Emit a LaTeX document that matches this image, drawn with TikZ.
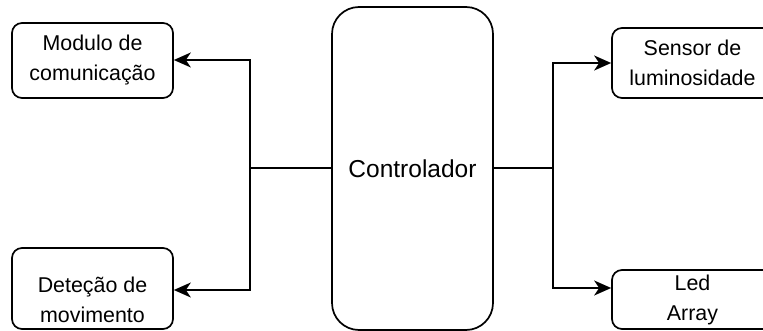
\documentclass[tikz,border=0pt]{standalone}
\usepackage{fontspec}
\setmainfont{Liberation Sans}
\usetikzlibrary{arrows.meta}
\begin{document}
\begin{tikzpicture}[x=1pt,y=-1pt,
  block/.style={draw=black, line width=1.7pt, rounded corners=10pt, inner sep=0pt,
    minimum width=161pt, align=center, font=\fontsize{21.4}{30}\selectfont},
  label text/.style={inner sep=0pt, align=center, font=\fontsize{21.4}{30}\selectfont},
  wire/.style={draw=black, line width=1.7pt},
  arr/.style={wire, -{Stealth[length=17pt, width=15pt, inset=5pt]}}]
  \useasboundingbox (0,0) rectangle (763,331);
  \begin{scope}
  \clip (0,0) rectangle (763,331);
  % central controller
  \node[block, rounded corners=27pt, minimum height=323pt,
    font=\fontsize{24.5}{30}\selectfont] (ctrl) at (412.5,168.5) {Controlador};
  % left side blocks
  \node[block, minimum height=75pt] (com) at (92.5,60.5) {Modulo de\\comunicação};
  \node[block, minimum height=81pt] (mov) at (92.5,288.5) {};
  \node[label text] (movtxt) at (92.5,300) {Deteção de\\movimento};
  % right side blocks
  \node[block, minimum height=70pt] (lum) at (692.5,63) {Sensor de\\luminosidade};
  \node[block, minimum height=59pt] (led) at (692.5,299.5) {Led\\Array};
  % junction points of the connectors
  \coordinate (jl) at (250,168);
  \coordinate (jr) at (553,168);
  \coordinate (comin) at (com.east |- 0,60);
  \coordinate (movin) at (mov.east |- 0,290);
  \coordinate (lumin) at (lum.west |- 0,63);
  \coordinate (ledin) at (led.west |- 0,288);
  % connectors
  \draw[wire] (ctrl.west |- jl) -- (jl);
  \draw[arr] (jl) -- (jl |- comin) -- (comin);
  \draw[arr] (jl) -- (jl |- movin) -- (movin);
  \draw[wire] (ctrl.east |- jr) -- (jr);
  \draw[arr] (jr) -- (jr |- lumin) -- (lumin);
  \draw[arr] (jr) -- (jr |- ledin) -- (ledin);
  \end{scope}
\end{tikzpicture}
\end{document}
